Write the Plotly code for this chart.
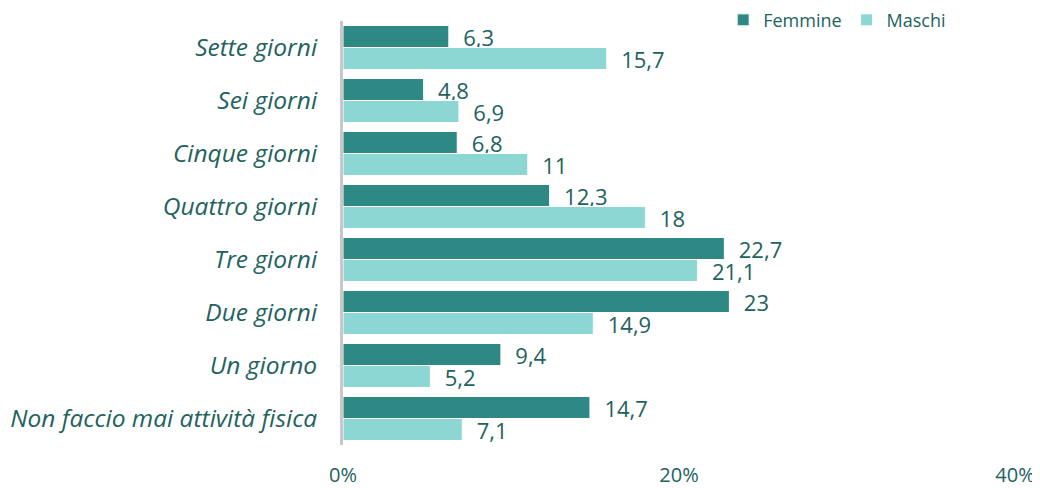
import plotly.graph_objects as go

categorie = [
    "Sette giorni",
    "Sei giorni",
    "Cinque giorni",
    "Quattro giorni",
    "Tre giorni",
    "Due giorni",
    "Un giorno",
    "Non faccio mai attività fisica",
]
femmine = [6.3, 4.8, 6.8, 12.3, 22.7, 23, 9.4, 14.7]
maschi = [15.7, 6.9, 11, 18, 21.1, 14.9, 5.2, 7.1]
tick_vals = [0, 20, 40]
tick_text = ["0%", "20%", "40%"]

TEXT = "#22625E"
FONT = "Open Sans"


def etichetta(v):
    # decimal comma, as in the original
    s = f"{v:g}".replace(".", ",")
    return "  " + s


fig = go.Figure()
for nome, valori, colore in [
    ("Femmine", femmine, "#2E8985"),
    ("Maschi", maschi, "#8CD6D4"),
]:
    fig.add_trace(
        go.Bar(
            y=categorie,
            x=valori,
            orientation="h",
            name=nome,
            marker=dict(color=colore, line=dict(color="white", width=1)),
            text=[etichetta(v) for v in valori],
            textposition="outside",
            constraintext="none",
            textfont=dict(family=FONT, size=22, color=TEXT),
            cliponaxis=False,
        )
    )

# the page body has an 8px margin, so the figure is 8px smaller and margins shifted
fig.update_layout(
    barmode="group",
    bargap=0.17,
    bargroupgap=0,
    width=1032,
    height=480,
    margin=dict(l=335, r=25, t=13, b=43, autoexpand=False),
    plot_bgcolor="white",
    paper_bgcolor="white",
    font=dict(family=FONT, color=TEXT),
    showlegend=True,
    legend=dict(
        orientation="h",
        x=0.905,
        xanchor="right",
        y=1.002,
        yanchor="middle",
        font=dict(family=FONT, size=18, color=TEXT),
        itemwidth=30,
        bgcolor="rgba(0,0,0,0)",
    ),
    xaxis=dict(
        range=[0, 40],
        tickvals=tick_vals,
        ticktext=tick_text,
        showgrid=False,
        zeroline=False,
        showline=False,
        ticks="",
        tickfont=dict(family=FONT, size=20, color=TEXT),
        ticklabelstandoff=16,
    ),
    yaxis=dict(
        autorange="reversed",
        showgrid=False,
        showline=True,
        linecolor="#C8C8C8",
        linewidth=3,
        ticks="",
        ticklabelstandoff=18,
        tickfont=dict(family=FONT, size=24.5, color=TEXT, style="italic"),
    ),
)

fig.write_html("out.html")
